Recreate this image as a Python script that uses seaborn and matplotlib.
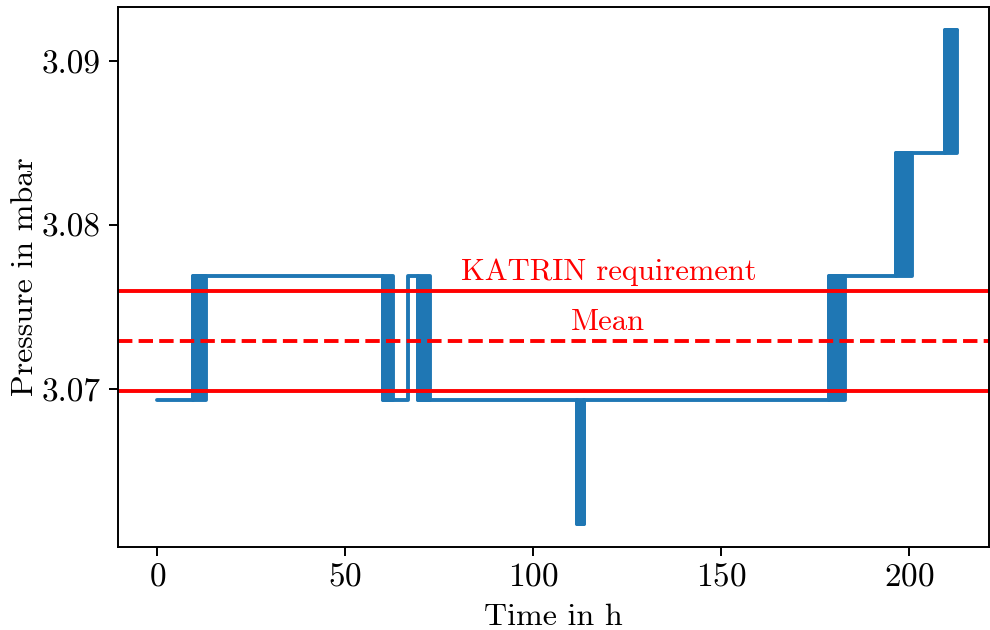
import matplotlib
matplotlib.use("Agg")
import matplotlib.pyplot as plt
import seaborn as sns
import pandas as pd

# ---- data ----
# quantised pressure levels (mbar)
level_low = 3.06935
level_up1 = 3.0769
level_up2 = 3.0844
level_up3 = 3.0919
level_dip = 3.0618

# step line vertices (time in h, pressure in mbar)
line_time = [0, 9.52, 9.52, 59.96, 59.96, 66.55, 66.55, 69.26, 69.26, 111.6, 111.6,
             113.4, 113.4, 178.7, 178.7, 196.6, 196.6, 209.5, 209.5, 212.7]
line_pressure = [level_low, level_low, level_up1, level_up1, level_low, level_low,
                 level_up1, level_up1, level_low, level_low, level_dip,
                 level_dip, level_low, level_low, level_up1, level_up1,
                 level_up2, level_up2, level_up3, level_up3]

# intervals of rapid toggling between two levels (drawn as solid bands)
band_start = [9.52, 59.96, 69.26, 111.6, 178.7, 196.6, 209.5]
band_end = [12.98, 62.7, 72.45, 113.4, 183.1, 200.8, 212.7]
band_low = [level_low, level_low, level_low, level_dip, level_low, level_up1, level_up2]
band_high = [level_up1, level_up1, level_up1, level_low, level_up1, level_up2, level_up3]

mean_pressure = 3.07294
requirement_levels = [3.06987, 3.07601]
label_x = 120

x_ticks = [0, 50, 100, 150, 200]
y_ticks = [3.07, 3.08, 3.09]
y_tick_labels = ["3.07", "3.08", "3.09"]

# ---- style ----
sns.set_theme(style="ticks")
plt.rcParams["font.family"] = ["cmr10", "DejaVu Serif"]
plt.rcParams["mathtext.fontset"] = "cm"
plt.rcParams["axes.formatter.use_mathtext"] = True
plt.rcParams["axes.unicode_minus"] = False
plt.rcParams["axes.linewidth"] = 1.4
plt.rcParams["xtick.major.width"] = 1.4
plt.rcParams["ytick.major.width"] = 1.4
plt.rcParams["xtick.major.size"] = 6.2
plt.rcParams["ytick.major.size"] = 6.8
plt.rcParams["xtick.major.pad"] = 5
plt.rcParams["ytick.major.pad"] = 5.5
for k in ["text.color", "axes.labelcolor", "xtick.color", "ytick.color", "axes.edgecolor"]:
    plt.rcParams[k] = "black"

FS = 23
FS_TICK = 24
FS_ANN = 22
blue = "#1f77b4"

fig = plt.figure(figsize=(9.9, 6.3), dpi=100)
ax = fig.add_axes([0.119, 0.132, 0.88, 0.857])

df = pd.DataFrame({"t": line_time, "p": line_pressure})
sns.lineplot(data=df, x="t", y="p", sort=False, estimator=None, color=blue,
             lw=2.8, ax=ax, solid_joinstyle="round", solid_capstyle="round")

for s, e, lo, hi in zip(band_start, band_end, band_low, band_high):
    ax.fill_between([s, e], [lo, lo], [hi, hi], facecolor=blue, edgecolor=blue,
                    linewidth=2.8, joinstyle="round")

for lv in requirement_levels:
    ax.axhline(lv, color="red", lw=2.8)
ax.axhline(mean_pressure, color="red", lw=2.8, ls="--")

ax.text(label_x, requirement_levels[1] + 0.0003, "KATRIN requirement", color="red",
        ha="center", va="bottom", fontsize=FS_ANN)
ax.text(label_x, mean_pressure + 0.0003, "Mean", color="red",
        ha="center", va="bottom", fontsize=FS_ANN)

ax.set_xlim(-10.55, 221.3)
ax.set_ylim(3.06038, 3.09333)
ax.set_xticks(x_ticks)
ax.set_yticks(y_ticks)
ax.set_yticklabels(y_tick_labels)
ax.tick_params(labelsize=FS_TICK)
ax.set_xlabel("Time in h", fontsize=FS, labelpad=9)
ax.set_ylabel("Pressure in mbar", fontsize=FS, labelpad=2)
for sp in ax.spines.values():
    sp.set_visible(True)
    sp.set_color("black")

fig.savefig("out.png", dpi=100)
